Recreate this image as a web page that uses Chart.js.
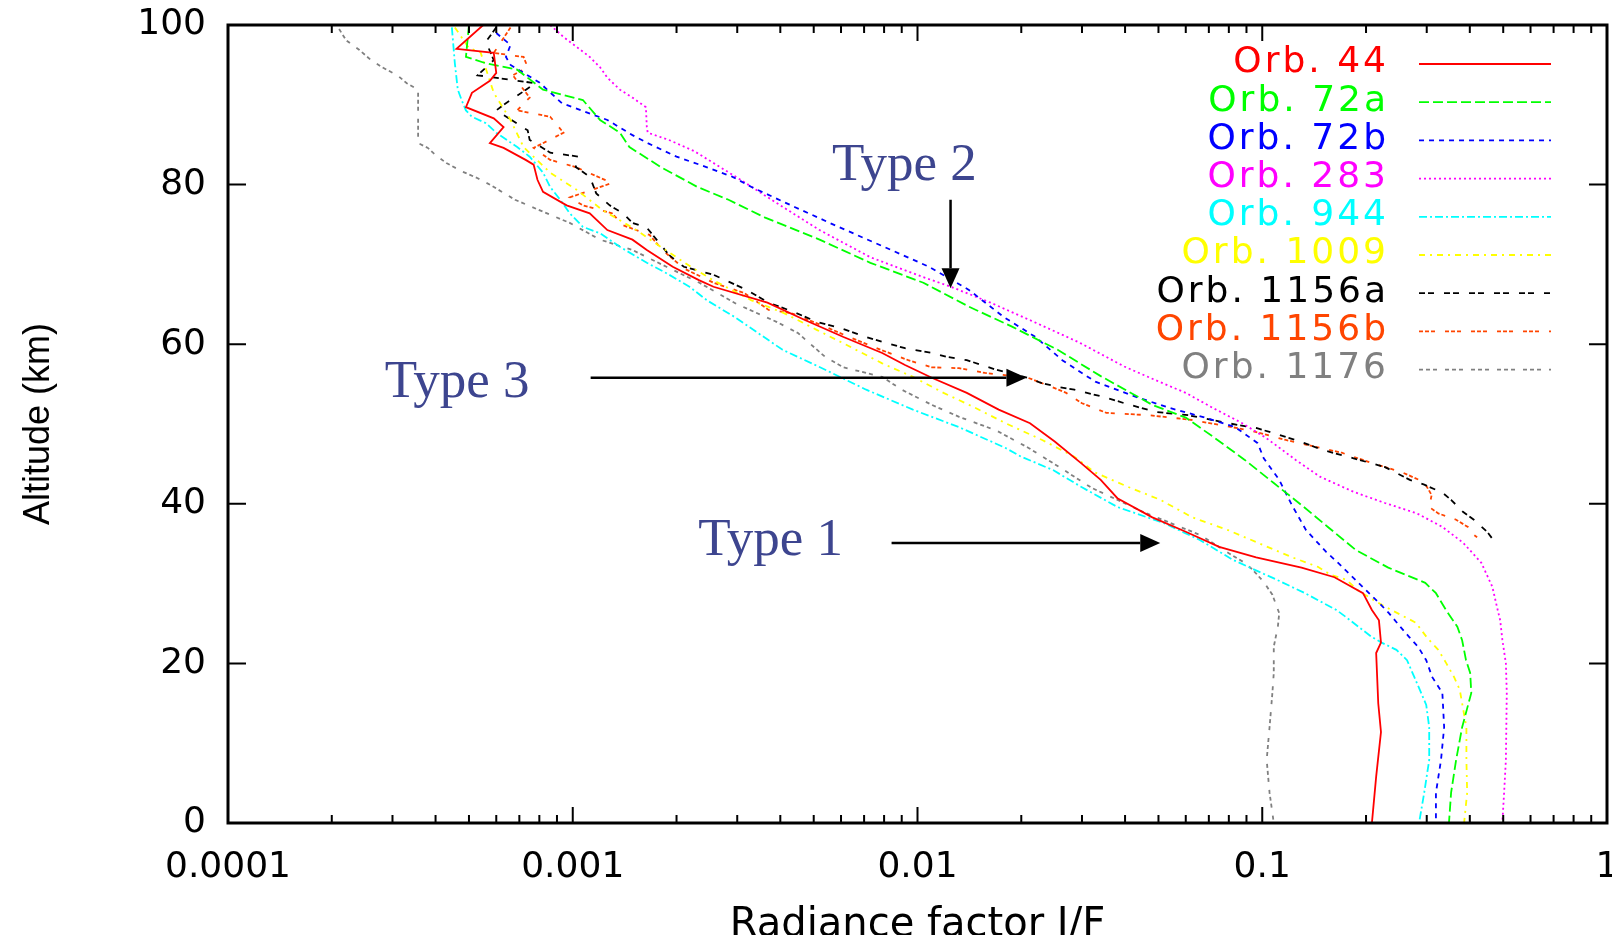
<!DOCTYPE html>
<html>
<head>
<meta charset="utf-8">
<title>Radiance factor profiles</title>
<script src="https://cdn.jsdelivr.net/npm/chart.js@4.4.1/dist/chart.umd.min.js"></script>
<style>
  html, body { margin: 0; padding: 0; background: #fff; }
  #wrap { width: 1612px; height: 935px; }
</style>
</head>
<body>
<div id="wrap"><canvas id="chart" width="1612" height="935"></canvas></div>
<script>
// [altitude km, I/F], top of atmosphere downwards
const orb44 = [[100, 0.00055], [97, 0.00046], [96.5, 0.00059], [94, 0.0006], [93, 0.000575], [91.5, 0.00051],
  [89.7, 0.00049], [88.3, 0.00059], [87.2, 0.00063], [85.2, 0.000575], [84.6, 0.00063], [83.1, 0.00073],
  [82.5, 0.00077], [80.6, 0.00079], [79.1, 0.00082], [77.4, 0.00096], [76.4, 0.00112], [74.3, 0.00126],
  [73.1, 0.00149], [71.8, 0.00164], [69.7, 0.00195], [68, 0.00233], [67.2, 0.00256], [65.2, 0.00367],
  [63, 0.00473], [60.9, 0.0061], [58.9, 0.0079], [57.4, 0.0092], [55.8, 0.011], [53.9, 0.0139],
  [51.8, 0.0172], [50.1, 0.0212], [47.8, 0.025], [45, 0.030], [43, 0.034], [40.7, 0.038], [38.3, 0.048],
  [36.5, 0.06], [34.6, 0.075], [33.3, 0.096], [32, 0.13], [30.8, 0.162], [28.8, 0.196], [26.7, 0.208],
  [25.4, 0.218], [22.6, 0.221], [21.3, 0.214], [15, 0.217], [11.4, 0.221], [5.8, 0.214], [0, 0.208]];

const orb72a = [[100, 0.0005], [96, 0.00049], [95.2, 0.00056], [94.4, 0.00069], [91.9, 0.00082], [90.6, 0.00107],
  [88.1, 0.0012], [86.5, 0.00137], [84.7, 0.00146], [82.2, 0.0018], [79.7, 0.0023], [78.1, 0.00283],
  [75.9, 0.0036], [73.1, 0.0052], [70.2, 0.0073], [67.7, 0.0104], [64.7, 0.0141], [62.2, 0.0188],
  [59.3, 0.0255], [56, 0.034], [52.4, 0.048], [50.8, 0.06], [48.4, 0.072], [45.5, 0.089], [42.6, 0.108],
  [39.6, 0.132], [37.1, 0.155], [34.2, 0.187], [32, 0.232], [30.1, 0.297], [28.8, 0.319], [26.7, 0.341],
  [24.6, 0.368], [22.9, 0.38], [20.4, 0.39], [18.8, 0.401], [16.3, 0.404], [12, 0.38], [7.9, 0.365],
  [3.8, 0.353], [0, 0.348]];

const orb72b = [[99, 0.0006], [97.5, 0.00066], [96, 0.00064], [95, 0.00066], [94, 0.00072], [92.8, 0.0008],
  [90.2, 0.00093], [88.1, 0.00126], [86.2, 0.00149], [85.2, 0.00165], [83.5, 0.002], [82.2, 0.00244],
  [81, 0.0029], [79.7, 0.0033], [77.2, 0.0044], [74.7, 0.0059], [72.2, 0.008], [69.7, 0.0108],
  [66.8, 0.0141], [63.4, 0.0178], [60.9, 0.022], [58, 0.0263], [55.3, 0.0328], [53.3, 0.0437], [52, 0.054],
  [50.9, 0.067], [49.6, 0.0835], [47.6, 0.097], [45.7, 0.101], [43, 0.112], [39.8, 0.122], [36.7, 0.134],
  [34, 0.153], [32.7, 0.165], [31.3, 0.178], [30.1, 0.19], [28.8, 0.204], [27.6, 0.218], [26.3, 0.233],
  [24.8, 0.249], [23.3, 0.267], [22.1, 0.283], [20.4, 0.299], [18.3, 0.311], [16.3, 0.333], [12, 0.337],
  [7.9, 0.33], [3.8, 0.319], [0, 0.319]];

const orb283 = [[100, 0.00086], [98.5, 0.00094], [97.2, 0.00103], [96, 0.00112], [94.7, 0.0012], [93.4, 0.00126],
  [91.9, 0.00137], [90.9, 0.00149], [89.7, 0.00163], [87.2, 0.00164], [86.5, 0.00165], [85.6, 0.0019],
  [84.2, 0.00225], [80.6, 0.00307], [77.7, 0.0039], [74.3, 0.0052], [70.9, 0.0073], [68.4, 0.0104],
  [67.2, 0.0125], [65.2, 0.0163], [62.7, 0.022], [60.2, 0.0295], [57.2, 0.0398], [55.5, 0.049], [53.9, 0.06],
  [52, 0.072], [50.1, 0.0875], [48.2, 0.103], [45.5, 0.125], [43.4, 0.147], [41.5, 0.184], [40.1, 0.227],
  [38.8, 0.281], [37.1, 0.333], [35.1, 0.383], [32.6, 0.432], [29.6, 0.465], [27, 0.48], [25.4, 0.49],
  [23, 0.497], [20, 0.509], [16.3, 0.512], [7.9, 0.509], [3.8, 0.503], [0, 0.497]];

const orb944 = [[99.7, 0.000446], [95.2, 0.000455], [91.9, 0.000464], [90.6, 0.000476], [89.3, 0.00049],
  [88.5, 0.00051], [87.7, 0.00056], [86.5, 0.0006], [84.7, 0.00069], [83.5, 0.00075], [81.5, 0.00082],
  [79.7, 0.00086], [78.1, 0.00092], [76.4, 0.00098], [74.7, 0.00107], [73.9, 0.0012], [72.2, 0.00137],
  [70.2, 0.00164], [68.9, 0.00187], [67.2, 0.00218], [65.5, 0.00245], [63.4, 0.00295], [59.3, 0.00406],
  [56.8, 0.0054], [54.3, 0.0071], [51.8, 0.0097], [49.6, 0.0132], [47, 0.018], [45.9, 0.02], [44.2, 0.0248],
  [42.1, 0.0299], [39.6, 0.038], [37.6, 0.0517], [35.5, 0.0657], [33, 0.082], [31.3, 0.1], [30.5, 0.11],
  [28.8, 0.133], [26.7, 0.164], [25.8, 0.175], [24.6, 0.19], [23.3, 0.208], [22.6, 0.222], [21.7, 0.245],
  [20.4, 0.263], [18.3, 0.276], [16.3, 0.289], [14.8, 0.299], [12, 0.305], [7.9, 0.305], [3.8, 0.295],
  [0, 0.285]];

const orb1009 = [[99.7, 0.000455], [97.1, 0.0005], [96.6, 0.00054], [91.5, 0.00059], [88.1, 0.00066],
  [84.7, 0.00072], [81.5, 0.00086], [79.3, 0.00103], [76.8, 0.00122], [74.3, 0.00153], [72.2, 0.0018],
  [69.7, 0.0022], [68, 0.00256], [65.5, 0.0033], [63.9, 0.0041], [61.8, 0.0051], [60.1, 0.0061],
  [57.6, 0.0079], [55.9, 0.0097], [53.9, 0.0119], [52.1, 0.0146], [50.1, 0.018], [48, 0.023], [45.9, 0.0285],
  [43.9, 0.0328], [42.1, 0.0409], [40.5, 0.0506], [38.3, 0.0627], [36.7, 0.0796], [34.8, 0.101],
  [33.3, 0.122], [32.1, 0.145], [31.1, 0.158], [30.5, 0.175], [29.1, 0.19], [27.2, 0.225], [25.1, 0.279],
  [23.2, 0.301], [21.7, 0.324], [20.1, 0.341], [18.3, 0.36], [16.7, 0.374], [15, 0.38], [12, 0.391],
  [7.9, 0.391], [3.8, 0.393], [0, 0.385]];

const orb1156a = [[99.7, 0.0006], [97.9, 0.00056], [95.6, 0.00059], [93.7, 0.00053], [92.7, 0.00078],
  [90, 0.00063], [89.3, 0.0006], [86.8, 0.00074], [85.6, 0.00075], [84, 0.00086], [83.5, 0.00104],
  [82.2, 0.00102], [81, 0.00112], [78.9, 0.00117], [77.4, 0.00128], [76.4, 0.0014], [75.2, 0.00149],
  [74.6, 0.00164], [73.1, 0.00175], [71.2, 0.0019], [69.7, 0.0021], [68.7, 0.00256], [66.8, 0.0032],
  [65.2, 0.0037], [64, 0.0044], [62.8, 0.0051], [62, 0.006], [60.9, 0.0071], [60.3, 0.0079], [59.5, 0.0092],
  [58.9, 0.011], [58.4, 0.0122], [58, 0.0139], [56.8, 0.0169], [55.8, 0.0209], [55.1, 0.023], [54.6, 0.026],
  [54.3, 0.0285], [53.3, 0.0353], [52.6, 0.0398], [51.5, 0.0493], [51.1, 0.061], [50.1, 0.0796],
  [49.5, 0.096], [49, 0.105], [48, 0.125], [46.7, 0.151], [45.7, 0.184], [44.6, 0.227], [43, 0.268],
  [42.4, 0.295], [41.4, 0.333], [40.5, 0.353], [39, 0.382], [38, 0.411], [36.5, 0.449], [35.2, 0.473]];

const orb1156b = [[99.7, 0.00066], [96.5, 0.00059], [96, 0.00072], [94.7, 0.00074], [93.7, 0.00067],
  [90.9, 0.00075], [89.3, 0.00069], [88.5, 0.00086], [86.5, 0.00094], [84.6, 0.00077], [83.1, 0.00086],
  [82.2, 0.00102], [80.2, 0.0013], [78.4, 0.00098], [77.4, 0.00107], [76.4, 0.0013], [74.9, 0.0014],
  [73.7, 0.00167], [71.8, 0.00182], [69.5, 0.0021], [67.7, 0.00256], [66.4, 0.00315], [64.3, 0.0037],
  [63.9, 0.0043], [62.2, 0.0054], [61.2, 0.0061], [59.6, 0.0075], [58, 0.0094], [57.1, 0.011], [57, 0.0132],
  [56.4, 0.0157], [55.8, 0.0209], [54.8, 0.024], [53.9, 0.027], [52.6, 0.03], [51.4, 0.0353], [51.1, 0.047],
  [50.5, 0.0627], [49.2, 0.092], [48, 0.117], [47.1, 0.144], [46.4, 0.17], [45.2, 0.205], [43.9, 0.256],
  [42.7, 0.295], [41.1, 0.31], [39.6, 0.305], [38.8, 0.324], [38, 0.365], [37.1, 0.395], [36.1, 0.411],
  [35.8, 0.42]];

const orb1176 = [[99.5, 0.00021], [98.1, 0.00022], [96.9, 0.00024], [95.6, 0.00026], [94.7, 0.00028],
  [93.7, 0.00031], [92.7, 0.00033], [91.9, 0.000356], [85.2, 0.000356], [84.6, 0.00038], [83.7, 0.0004],
  [82.7, 0.00043], [81.6, 0.00048], [80.8, 0.00053], [79.9, 0.00058], [78.1, 0.00068], [76.8, 0.0008],
  [75.2, 0.00098], [73.1, 0.0012], [71.8, 0.00149], [69.7, 0.00187], [67.7, 0.00233], [65, 0.003],
  [62.8, 0.0039], [61.4, 0.0045], [58.4, 0.0054], [57.1, 0.0061], [55.9, 0.0079], [54.3, 0.009],
  [52.4, 0.011], [50.9, 0.0132], [49.2, 0.0169], [47, 0.021], [44.5, 0.026], [42, 0.032], [39, 0.045],
  [36.1, 0.066], [33.8, 0.08], [32.6, 0.089], [31.7, 0.094], [30.2, 0.101], [28.6, 0.107], [26.3, 0.112],
  [24.6, 0.111], [22.1, 0.108], [18.8, 0.108], [16.3, 0.107], [12, 0.105], [7.9, 0.103], [3.8, 0.105],
  [0, 0.108]];

const orbLabels = ['Orb. 44', 'Orb. 72a', 'Orb. 72b', 'Orb. 283', 'Orb. 944', 'Orb. 1009', 'Orb. 1156a', 'Orb. 1156b', 'Orb. 1176'];
const orbSeries = [orb44, orb72a, orb72b, orb283, orb944, orb1009, orb1156a, orb1156b, orb1176];
const xTickLabels = ['0.0001', '0.001', '0.01', '0.1', '1'];

// note text and arrows, in data units (I/F, km)
const typeNotes = [
  { text: 'Type 2', x: 0.00916, y: 80.6 },
  { text: 'Type 3', x: 0.000462, y: 53.4 },
  { text: 'Type 1', x: 0.00375, y: 33.6 }
];
const typeArrows = [
  { x0: 0.01247, y0: 78.1, x1: 0.01247, y1: 67.0 },
  { x0: 0.001127, y0: 55.8, x1: 0.0207, y1: 55.8 },
  { x0: 0.00841, y0: 35.1, x1: 0.0506, y1: 35.1 }
];

const colors = ['#ff0000', '#00ff00', '#0000ff', '#ff00ff', '#00ffff', '#ffff00', '#000000', '#ff4500', '#808080'];
const dashes = [[], [10, 4], [5, 5], [2, 3], [8, 3, 2, 3], [6, 5, 2, 5], [6, 3, 6, 10], [4, 2, 4, 2, 4, 10], [4, 3, 4, 3, 4, 8]];

function isDecade(v) {
  const l = Math.log10(v);
  return Math.abs(l - Math.round(l)) < 1e-6;
}

// gnuplot-like frame with inward ticks on all four sides
const frameTicks = {
  id: 'frameTicks',
  afterDatasetsDraw(chart) {
    const { ctx, chartArea: a, scales: { x, y } } = chart;
    ctx.save();
    ctx.strokeStyle = '#000';
    ctx.lineWidth = 2;
    ctx.beginPath();
    for (let e = -4; e <= 0; e++) {
      for (let k = 1; k <= 9; k++) {
        const v = k * Math.pow(10, e);
        if (v > 1) break;
        const px = x.getPixelForValue(v);
        const len = k === 1 ? 16 : 8;
        ctx.moveTo(px, a.bottom); ctx.lineTo(px, a.bottom - len);
        ctx.moveTo(px, a.top); ctx.lineTo(px, a.top + len);
      }
    }
    y.ticks.forEach(t => {
      const py = y.getPixelForValue(t.value);
      ctx.moveTo(a.left, py); ctx.lineTo(a.left + 18, py);
      ctx.moveTo(a.right, py); ctx.lineTo(a.right - 18, py);
    });
    ctx.stroke();
    ctx.lineWidth = 3;
    ctx.strokeRect(a.left, a.top, a.right - a.left, a.bottom - a.top);
    ctx.restore();
  }
};

// legend: coloured label on the left, line sample on the right
const sideLegend = {
  id: 'sideLegend',
  afterDraw(chart) {
    const { ctx, chartArea: a } = chart;
    ctx.save();
    ctx.font = '36px "DejaVu Sans"';
    ctx.textAlign = 'right';
    ctx.textBaseline = 'middle';
    if ('letterSpacing' in ctx) ctx.letterSpacing = '3px';
    chart.data.datasets.forEach((ds, i) => {
      const yy = a.top + 38 + i * 38.2;
      ctx.fillStyle = ds.borderColor;
      ctx.fillText(ds.label, a.right - 218, yy);
      ctx.strokeStyle = ds.borderColor;
      ctx.lineWidth = ds.borderWidth;
      ctx.setLineDash(ds.borderDash);
      ctx.beginPath();
      ctx.moveTo(a.right - 188, yy + 1);
      ctx.lineTo(a.right - 56, yy + 1);
      ctx.stroke();
    });
    ctx.restore();
  }
};

// "Type n" notes with black arrows
const typeMarks = {
  id: 'typeMarks',
  afterDraw(chart) {
    const { ctx, scales: { x, y } } = chart;
    ctx.save();
    ctx.font = '53px "Liberation Serif"';
    ctx.fillStyle = '#3d458f';
    ctx.textAlign = 'center';
    ctx.textBaseline = 'alphabetic';
    typeNotes.forEach(n => ctx.fillText(n.text, x.getPixelForValue(n.x), y.getPixelForValue(n.y)));
    ctx.strokeStyle = '#000';
    ctx.fillStyle = '#000';
    ctx.lineWidth = 2.5;
    typeArrows.forEach(r => {
      const x0 = x.getPixelForValue(r.x0), y0 = y.getPixelForValue(r.y0);
      const x1 = x.getPixelForValue(r.x1), y1 = y.getPixelForValue(r.y1);
      const ang = Math.atan2(y1 - y0, x1 - x0);
      const hl = 20, hw = 9;
      const bx = x1 - hl * Math.cos(ang), by = y1 - hl * Math.sin(ang);
      ctx.beginPath();
      ctx.moveTo(x0, y0);
      ctx.lineTo(bx, by);
      ctx.stroke();
      ctx.beginPath();
      ctx.moveTo(x1, y1);
      ctx.lineTo(bx - hw * Math.sin(ang), by + hw * Math.cos(ang));
      ctx.lineTo(bx + hw * Math.sin(ang), by - hw * Math.cos(ang));
      ctx.closePath();
      ctx.fill();
    });
    ctx.restore();
  }
};

const ctx = document.getElementById('chart').getContext('2d');

new Chart(ctx, {
  type: 'scatter',
  data: {
    datasets: orbSeries.map((s, i) => ({
      label: orbLabels[i],
      data: s.map(p => ({ x: p[1], y: p[0] })),
      borderColor: colors[i],
      backgroundColor: colors[i],
      borderWidth: 1.8,
      borderDash: dashes[i],
      showLine: true,
      pointRadius: 0,
      tension: 0,
      fill: false
    }))
  },
  options: {
    responsive: false,
    animation: false,
    layout: { padding: { top: 25, right: 5, left: 0, bottom: 0 } },
    plugins: {
      legend: { display: false },
      tooltip: { enabled: false }
    },
    scales: {
      x: {
        type: 'logarithmic',
        min: 0.0001,
        max: 1,
        grid: { display: false, drawTicks: false },
        border: { display: false },
        ticks: {
          autoSkip: false,
          maxRotation: 0,
          padding: 23,
          color: '#000',
          font: { family: 'DejaVu Sans', size: 36 },
          callback: v => isDecade(v) ? xTickLabels[Math.round(Math.log10(v)) + 4] : ''
        },
        title: {
          display: true,
          text: 'Radiance factor I/F',
          color: '#000',
          font: { family: 'DejaVu Sans', size: 40, lineHeight: 1 },
          padding: { top: 0, bottom: -11 }
        },
        afterFit(s) { s.height = 112; s.paddingLeft = 0; s.paddingRight = 0; }
      },
      y: {
        min: 0,
        max: 100,
        grid: { display: false, drawTicks: false },
        border: { display: false },
        ticks: {
          stepSize: 20,
          padding: 22,
          color: '#000',
          font: { family: 'DejaVu Sans', size: 36 }
        },
        title: {
          display: true,
          text: 'Altitude (km)',
          color: '#000',
          font: { family: 'Liberation Sans', size: 36 },
          padding: { top: 17, bottom: 0 }
        },
        afterFit(s) { s.width = 228; s.paddingTop = 0; s.paddingBottom = 0; }
      }
    }
  },
  plugins: [frameTicks, sideLegend, typeMarks]
});
</script>
</body>
</html>
